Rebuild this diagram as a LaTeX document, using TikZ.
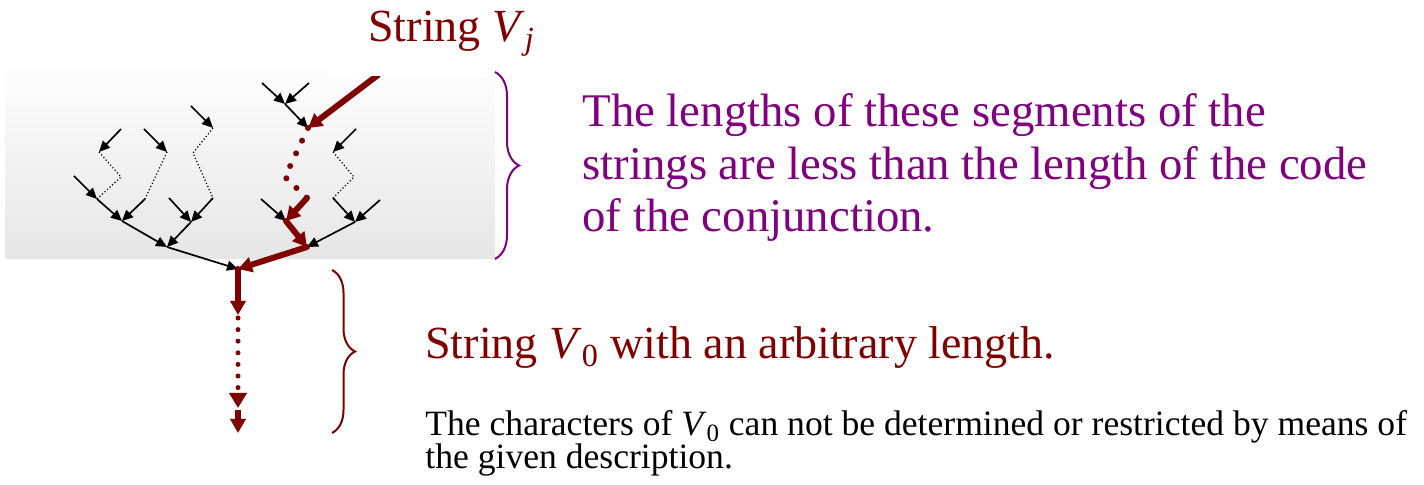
\documentclass[tikz,border=0pt]{standalone}
\usepackage{fontspec}
\setmainfont{Liberation Serif}
\usetikzlibrary{arrows.meta,decorations.pathreplacing}
\definecolor{strred}{RGB}{128,0,0}
\definecolor{notepurple}{RGB}{128,0,128}
\definecolor{boxgray}{RGB}{230,230,230}

\begin{document}
\begin{tikzpicture}[x=0.5pt,y=-0.5pt,
  blk/.style={line width=0.85pt,-{Triangle[length=5.5pt,width=5pt]}},
  segdots/.style={line width=0.6pt,dash pattern=on 0.6pt off 1.1pt},
  vjline/.style={strred,line width=3pt,line cap=round,-{Triangle[length=7pt,width=7.5pt]}},
  vjdots/.style={strred,line width=3pt,line cap=round,dash pattern=on 0pt off 7pt},
  curly/.style={line width=1pt,decorate,decoration={brace,amplitude=#1}},
  bigtext/.style={anchor=base west,inner sep=0,font=\fontsize{23}{26.25}\selectfont}]
  \useasboundingbox (0,0) rectangle (1424,485);
  % shaded region of the short segments
  \shade[top color=white,bottom color=boxgray] (5,57) rectangle (495,259);
  % junctions
  \coordinate (root) at (238,269);
  \coordinate (jl) at (167,247);
  \coordinate (jr) at (307,247);
  \coordinate (ja) at (122,221);
  \coordinate (jb) at (191,222);
  \coordinate (jc) at (286,221);
  \coordinate (jd) at (355,222);
  % left strings
  \coordinate (l1) at (121,129); \coordinate (lb1) at (99,152);
  \coordinate (lz1) at (121,177); \coordinate (lc1) at (97,199);
  \coordinate (l2) at (74,176);
  \coordinate (l3) at (144,129); \coordinate (lb3) at (167,152);
  \coordinate (lc3) at (145,199);
  \coordinate (l5) at (191,106); \coordinate (lb5) at (213,128);
  \coordinate (lz5) at (193,153); \coordinate (lc5) at (213,198);
  \coordinate (l6) at (169,198);
  % right strings
  \coordinate (r1) at (262,83); \coordinate (r2) at (309,83);
  \coordinate (rq0) at (285,104); \coordinate (rq1) at (308,128);
  \coordinate (rz) at (285,177); \coordinate (rq2) at (307,198);
  \coordinate (vjtop) at (378,75);
  \coordinate (r3) at (261,199);
  \coordinate (r4) at (356,129); \coordinate (rs1) at (333,152);
  \coordinate (rsz) at (354,177); \coordinate (rs2) at (333,198);
  \coordinate (r5) at (380,200);
  % string V_0
  \coordinate (v0a) at (238,315);
  \coordinate (v0b) at (238,318);
  \coordinate (v0c) at (238,408);
  \coordinate (v0d) at (238,410);
  \coordinate (v0e) at (238,433);
  % black arrows
  \foreach \s/\t in {l1/lb1, l2/lc1, lc1/ja, l3/lb3, lc3/ja, ja/jl,
                     l5/lb5, l6/jb, lc5/jb, jb/jl, jl/root,
                     r1/rq0, r2/rq0, rq0/rq1, r3/jc,
                     r4/rs1, rs2/jd, r5/jd, jd/jr}
    \draw[blk] (\s) -- (\t);
  % dotted segments
  \draw[segdots] (lb1) -- (lz1) -- (lc1);
  \draw[segdots] (lb3) -- (lc3);
  \draw[segdots] (lb5) -- (lz5) -- (lc5);
  \draw[segdots] (rs1) -- (rsz) -- (rs2);
  % string V_j
  \draw[vjline] (vjtop) -- (rq1);
  \draw[vjdots] (rq1) -- (rz) -- (rq2);
  \draw[vjline] (rq2) -- (jc);
  \draw[vjline] (jc) -- (jr);
  \draw[vjline] (jr) -- (root);
  % string V_0
  \draw[vjline] (root) -- (v0a);
  \draw[vjdots,line width=2.5pt,dash pattern=on 0pt off 5.8pt,
        -{Triangle[length=7.5pt,width=8.5pt]}] (v0b) -- (v0c);
  \draw[vjline,line cap=butt] (v0d) -- (v0e);
  % labels
  \node[bigtext,strred,fill=white,inner xsep=19pt,inner ysep=10pt] (vjlabel) at (330,42)
    {String \textit{V}\textsubscript{\textit{j}}};
  \draw[notepurple,curly=12pt] (495,72) -- (495,259);
  \node[bigtext,notepurple,align=left,font=\fontsize{23.4}{26.25}\selectfont] (segnote) at (582,232)
    {The lengths of these segments of the\\strings are less than the length of the code\\of the conjunction.};
  \draw[strred,curly=11.5pt] (332,270) -- (332,433);
  \node[bigtext,strred] (v0label) at (425,359)
    {String \textit{V}\textsubscript{0} with an arbitrary length.};
  \node[anchor=base west,inner sep=0,align=left,font=\fontsize{17.8}{16.5}\selectfont] (v0note) at (425,469)
    {The characters of \textit{V}\textsubscript{0} can not be determined or restricted by means of\\the given description.};
\end{tikzpicture}
\end{document}
